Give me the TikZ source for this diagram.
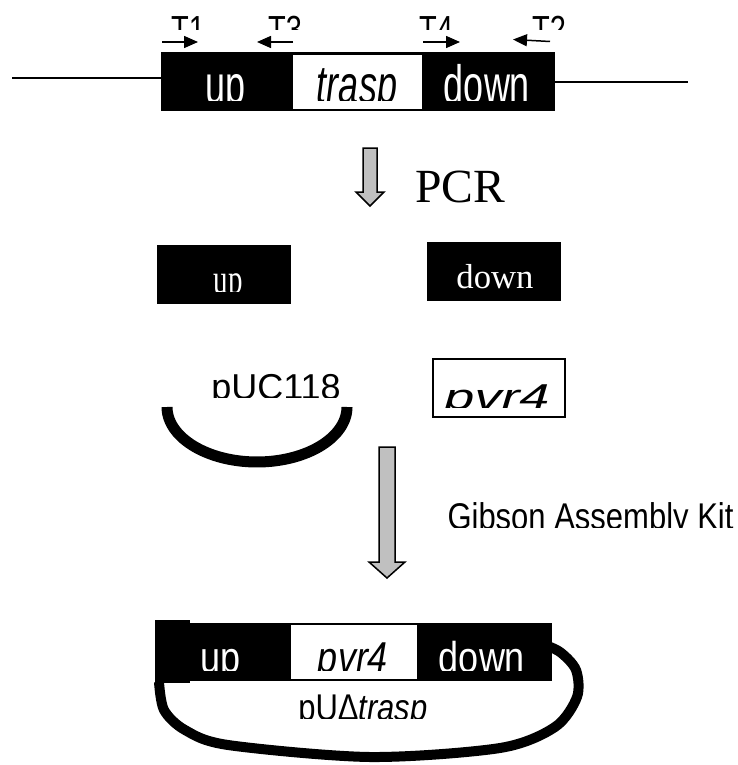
\documentclass[tikz,border=0pt]{standalone}
\usepackage{fontspec}
\setmainfont{Liberation Sans}
\newfontfamily\serifrm{Liberation Serif}
\usetikzlibrary{arrows.meta}
\definecolor{arrgray}{RGB}{192,192,192}
\newcommand{\txtsz}[4]{\scalebox{#2}[#3]{\fontsize{#1}{#1}\selectfont #4}}
\tikzset{
  lbl/.style={anchor=base, inner sep=0pt, outer sep=0pt},
  wlbl/.style={lbl, text=white},
  primer/.style={line width=1.5pt, -{Triangle[length=14pt,width=12pt]}},
  bigarrow/.style={fill=arrgray, draw=black, line width=1.5pt, line join=miter},
  chrom/.style={line width=1.5pt},
  loopline/.style={line width=10pt, line join=round},
}
\begin{document}
\begin{tikzpicture}[x=1pt,y=-1pt]
\useasboundingbox (0,0) rectangle (738,765);

% ---------- top: genomic locus ----------
\coordinate (l1) at (12,78);
\coordinate (l2) at (161,78);
\coordinate (r1) at (555,82);
\coordinate (r2) at (688,82);
\draw[chrom] (l1) -- (l2);
\draw[chrom] (r1) -- (r2);
\fill (161,52) rectangle (555,111);
\fill[white] (293,55) rectangle (422,109);
\begin{scope}
  \clip (150,50) rectangle (600,101);
  \node[wlbl] (up1) at (226,103) {\txtsz{36}{1}{1.5}{up}};
  \node[lbl] (trasp1) at (357,103) {\txtsz{36}{1}{1.5}{\itshape trasp}};
  \node[wlbl] (down1) at (487,103) {\txtsz{36}{1}{1.5}{down}};
\end{scope}

% primers
\begin{scope}
  \clip (150,0) rectangle (600,29.5);
  \node[lbl] (T1) at (188,43) {\txtsz{29}{1}{1.3}{T1}};
  \node[lbl] (T3) at (285,43) {\txtsz{29}{1}{1.3}{T3}};
  \node[lbl] (T4) at (436,43) {\txtsz{29}{1}{1.3}{T4}};
  \node[lbl] (T2) at (549,43) {\txtsz{29}{1}{1.3}{T2}};
\end{scope}
\coordinate (t1a) at (162,42); \coordinate (t1b) at (198,42);
\coordinate (t3a) at (293,42); \coordinate (t3b) at (257,42);
\coordinate (t4a) at (423,42); \coordinate (t4b) at (460,42);
\coordinate (t2a) at (550,41.5); \coordinate (t2b) at (513,39.5);
\draw[primer] (t1a) -- (t1b);
\draw[primer] (t3a) -- (t3b);
\draw[primer] (t4a) -- (t4b);
\draw[primer] (t2a) -- (t2b);

% ---------- PCR arrow ----------
\draw[bigarrow] (363,148) -- (377,148) -- (377,192) -- (384,192) -- (370,206) -- (356,192) -- (363,192) -- cycle;
\node[lbl] (pcr) at (460,202) {\txtsz{47.6}{1}{1}{\serifrm PCR}};

% ---------- PCR products ----------
\fill (157,245) rectangle (291,304);
\fill (427,242) rectangle (561,301);
\begin{scope}
  \clip (150,240) rectangle (300,291.5);
  \node[wlbl] (up2) at (228,293) {\txtsz{29}{1}{1.45}{\serifrm up}};
\end{scope}
\node[wlbl] (down2) at (495,288) {\txtsz{34.7}{1}{1}{\serifrm down}};

% ---------- pUC118 and pvr4 ----------
\begin{scope}
  \clip (150,355) rectangle (400,397);
  \node[lbl] (puc) at (276,399) {\txtsz{36}{1}{1}{pUC118}};
\end{scope}
\draw[line width=11pt] plot[domain=0:180, samples=72] ({257+90*cos(\x)},{407+55*sin(\x)});
\draw[line width=2pt, fill=white] (433,359) rectangle (565,417);
\begin{scope}
  \clip (434,360) rectangle (564,407);
  \node[lbl] (pvr2) at (497,409) {\txtsz{36}{1.5}{1}{\itshape pvr4}};
\end{scope}

% ---------- Gibson arrow ----------
\draw[bigarrow] (379,447) -- (395,447) -- (395,562) -- (405,562) -- (387,578) -- (369,562) -- (379,562) -- cycle;
\begin{scope}
  \clip (430,490) rectangle (738,527);
  \node[lbl] (gib) at (590.5,529) {\txtsz{31}{1}{1.2}{Gibson Assembly Kit}};
\end{scope}

% ---------- final plasmid ----------
\draw[loopline] plot[smooth] coordinates {(540,643) (560,652) (576,670) (577,697) (555,727) (500,748) (370,757) (228,745) (185,730) (164,710) (159,682)};
\fill (155,623) rectangle (552,681);
\fill (155,620) rectangle (190,683);
\fill[white] (291,625) rectangle (417,679);
\begin{scope}
  \clip (150,615) rectangle (560,670);
  \node[wlbl] (up3) at (221,672) {\txtsz{36}{1}{1.2}{up}};
  \node[lbl] (pvr3) at (353,672) {\txtsz{36}{1}{1.2}{\itshape pvr4}};
  \node[wlbl] (down3) at (482,672) {\txtsz{36}{1}{1.2}{down}};
\end{scope}
\begin{scope}
  \clip (200,685) rectangle (550,718);
  \node[lbl] (pud) at (363,720) {\txtsz{31}{1}{1.2}{pUΔ{\itshape trasp}}};
\end{scope}
\end{tikzpicture}
\end{document}
